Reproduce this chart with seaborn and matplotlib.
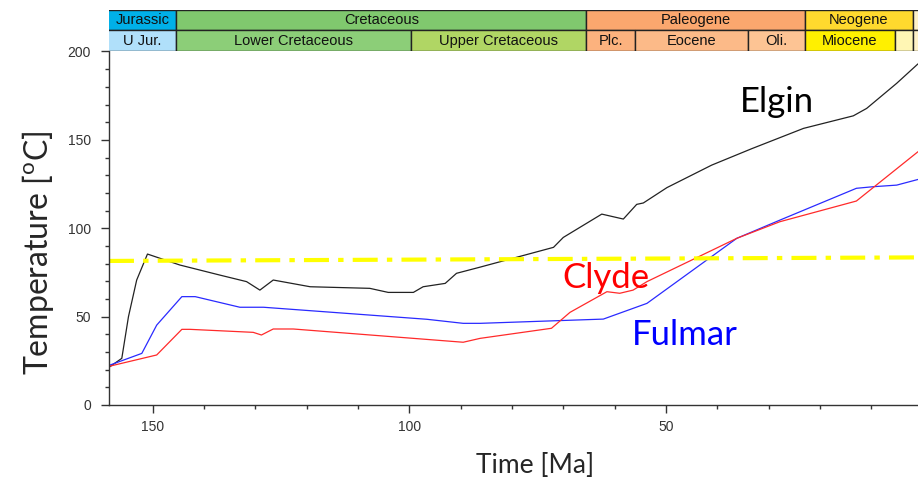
import matplotlib
matplotlib.use("Agg")
import matplotlib.pyplot as plt
import seaborn as sns
from matplotlib.ticker import MultipleLocator

# burial temperature histories (age in Ma, temperature in deg C)
elgin_age = [158.3, 156.0, 154.7, 153.1, 151.0, 144.7, 136.9, 131.7, 129.1, 126.5,
             119.3, 107.7, 104.1, 99.2, 97.3, 93.0, 90.8, 86.2, 71.9, 70.0,
             62.5, 58.3, 55.7, 54.4, 49.8, 41.1, 33.3, 23.2, 13.5, 10.9, 5.05, 0.9]
elgin_temp = [21.7, 26.4, 50.0, 70.7, 85.4, 79.2, 73.5, 69.8, 65.0, 70.7,
              66.9, 66.0, 63.7, 63.7, 66.9, 68.8, 74.5, 78.0, 89.2, 94.8,
              108.0, 105.2, 113.5, 114.3, 123.0, 135.7, 145.0, 156.5, 163.6, 167.8, 182.0, 193.0]

fulmar_age = [158.3, 152.1, 149.2, 144.3, 141.7, 133.0, 128.4, 96.6, 89.5, 86.2,
              62.2, 53.7, 36.2, 27.8, 12.9, 9.6, 5.05, 0.9]
fulmar_temp = [22.6, 29.2, 45.2, 61.3, 61.3, 55.3, 55.3, 48.5, 46.2, 46.2,
               48.6, 57.5, 94.3, 104.6, 122.6, 123.5, 124.4, 127.6]

clyde_age = [158.3, 149.2, 144.3, 142.7, 130.4, 128.8, 126.5, 122.6, 89.5, 86.2,
             72.3, 68.7, 61.5, 59.0, 56.4, 53.7, 36.2, 27.8, 12.9, 0.9]
clyde_temp = [22.0, 28.3, 42.8, 42.8, 41.1, 39.6, 43.0, 43.0, 35.5, 37.7,
              43.4, 52.4, 64.1, 63.2, 65.0, 69.8, 94.3, 103.7, 115.4, 143.3]

threshold_age = [158.5, 0.9]
threshold_temp = [81.5, 83.5]

# geological timescale (row 1 = periods, row 0 = epochs)
ts_names = ["Jurassic", "Cretaceous", "Paleogene", "Neogene", "",
            "U Jur.", "Lower Cretaceous", "Upper Cretaceous", "Plc.", "Eocene", "Oli.",
            "Miocene", "", ""]
ts_start = [170.0, 145.4, 65.5, 23.0, 1.8,
            161.0, 145.4, 99.6, 65.5, 56.0, 34.0, 23.0, 5.3, 1.8]
ts_end = [145.4, 65.5, 23.0, 1.8, 0.0,
          145.4, 99.6, 65.5, 56.0, 34.0, 23.0, 5.3, 1.8, 0.0]
ts_row = [1, 1, 1, 1, 1, 0, 0, 0, 0, 0, 0, 0, 0, 0]
ts_colors = ["#00B0E8", "#80C86E", "#FBA76E", "#FFD92E", "#FFF2C8",
             "#B0E0FA", "#8CCE78", "#B0D664", "#FCB27E", "#FCBA88", "#FDC494",
             "#FFF000", "#FFF6B4", "#FFF2C8"]

XMAX, XMIN = 158.5, 0.9

sns.set_style("ticks")
plt.rcParams["font.family"] = ["Liberation Sans", "DejaVu Sans"]
plt.rcParams["mathtext.fontset"] = "custom"
plt.rcParams["mathtext.rm"] = "Lato"

fig = plt.figure(figsize=(9.18, 4.79), dpi=100)
ax = fig.add_axes([0.1187, 0.1545, 0.8813, 0.738])

sns.lineplot(x=elgin_age, y=elgin_temp, sort=False, estimator=None, color="#222222", lw=0.9, ax=ax)
sns.lineplot(x=fulmar_age, y=fulmar_temp, sort=False, estimator=None, color="#2A2AFF", lw=0.9, ax=ax)
sns.lineplot(x=clyde_age, y=clyde_temp, sort=False, estimator=None, color="#FF2A2A", lw=0.9, ax=ax)
sns.lineplot(x=threshold_age, y=threshold_temp, sort=False, estimator=None, color="#FFFF00",
             lw=3.0, dashes=False, ax=ax).lines[-1].set_dashes([6.0, 2.2, 1.3, 2.2])

ax.set_xlim(XMAX, XMIN)
ax.set_ylim(0, 200)
ax.xaxis.set_major_locator(MultipleLocator(50))
ax.xaxis.set_minor_locator(MultipleLocator(10))
ax.yaxis.set_major_locator(MultipleLocator(50))
ax.yaxis.set_minor_locator(MultipleLocator(10))
ax.tick_params(which="major", length=6, width=1, color="#333333", labelsize=10,
               labelcolor="#333333", direction="out")
ax.tick_params(axis="x", which="major", pad=5)
ax.tick_params(axis="y", which="major", pad=7)
ax.tick_params(which="minor", length=3, width=1, color="#333333", direction="out")
sns.despine(ax=ax)
for side in ["left", "bottom"]:
    ax.spines[side].set_color("#333333")
    ax.spines[side].set_linewidth(1)

ax.set_xlabel("Time [Ma]", fontsize=19, family="Lato")
ax.set_ylabel(r"Temperature [$^{\mathrm{o}}$C]", fontsize=23, family="Lato")
ax.xaxis.set_label_coords(0.527, -0.135)
ax.yaxis.set_label_coords(-0.066, 0.43)

ax.text(28.4, 171.4, "Elgin", fontsize=25, family="Lato", color="black", ha="center", va="center")
ax.text(61.7, 71.8, "Clyde", fontsize=25, family="Lato", color="#FF0000", ha="center", va="center")
ax.text(46.3, 39.6, "Fulmar", fontsize=25, family="Lato", color="#0000FF", ha="center", va="center")

# timescale strip above the chart
ts = fig.add_axes([0.1187, 0.894, 0.8813, 0.086])
ts.barh(ts_row, [e - s for s, e in zip(ts_start, ts_end)], left=ts_start, height=1,
        align="edge", color=ts_colors, edgecolor="#222222", linewidth=1)
ts.set_xlim(XMAX, XMIN)
ts.set_ylim(0, 2)
for name, s, e, r in zip(ts_names, ts_start, ts_end, ts_row):
    mid = (min(s, XMAX) + max(e, XMIN)) / 2
    ts.text(mid, r + 0.47, name, ha="center", va="center", fontsize=10.5, color="#111111")
ts.axis("off")

fig.savefig("out.png", dpi=100)
